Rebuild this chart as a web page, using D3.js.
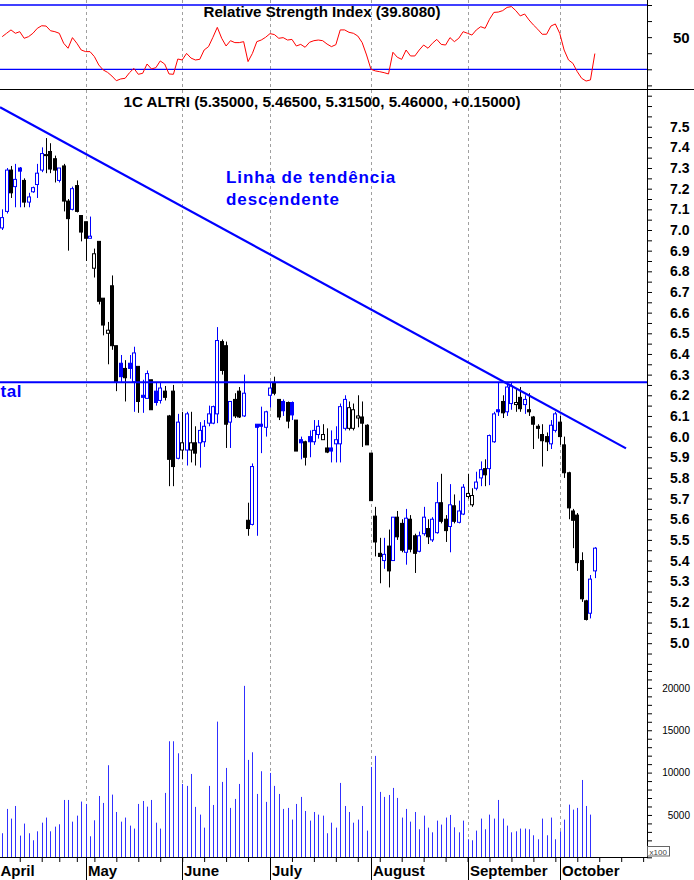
<!DOCTYPE html>
<html><head><meta charset="utf-8">
<script src="https://cdn.jsdelivr.net/npm/d3@7"></script>
<style>
body{margin:0;background:#fff}
svg{display:block}
text{font-family:"Liberation Sans",Arial,sans-serif}
</style>
</head><body>
<svg id="c" width="694" height="880"></svg>
<script>
// ---------------- DATA ----------------
const openP = [7.01,7.09,7.29,7.21,7.30,7.24,7.135,7.185,7.22,7.29,
7.36,7.38,7.345,7.24,7.31,7.14,7.10,7.215,7.07,7.04,
6.96,6.815,6.945,6.67,6.50,6.73,6.44,6.355,6.33,6.355,
6.265,6.34,6.20,6.185,6.275,6.22,6.175,6.22,6.10,6.22,
5.895,5.935,5.935,5.935,5.97,5.97,5.975,6.065,6.065,6.11,
6.46,6.44,6.07,6.18,6.22,6.10,5.595,5.575,6.06,6.06,
6.045,6.20,6.26,6.18,6.17,6.165,6.165,6.08,5.985,5.975,
6.0,5.975,6.01,5.985,5.945,5.945,5.965,5.965,6.04,6.04,
6.04,6.09,6.095,6.055,5.92,5.615,5.435,5.40,5.47,5.40,
5.61,5.58,5.44,5.60,5.52,5.445,5.53,5.555,5.50,5.535,
5.68,5.60,5.565,5.665,5.585,5.625,5.71,5.67,5.75,5.80,
5.845,5.845,5.975,6.13,6.17,6.12,6.16,6.155,6.19,6.155,
6.13,6.095,6.05,6.01,6.00,5.965,6.03,6.07,5.96,5.825,
5.64,5.62,5.40,5.205,5.145,5.35];
const highP = [7.10,7.30,7.31,7.32,7.305,7.25,7.18,7.21,7.32,7.40,
7.445,7.42,7.36,7.30,7.32,7.15,7.21,7.24,7.07,7.04,
7.065,6.91,6.945,6.67,6.555,6.78,6.44,6.395,6.37,6.395,
6.435,6.34,6.275,6.32,6.275,6.26,6.26,6.245,6.105,6.25,
6.11,6.12,6.12,6.12,6.05,6.07,6.08,6.15,6.15,6.53,
6.47,6.46,6.17,6.21,6.24,6.30,5.68,5.87,6.06,6.145,
6.125,6.26,6.29,6.18,6.18,6.17,6.17,6.08,6.0,5.98,
6.03,6.08,6.08,6.06,6.04,6.03,6.05,6.16,6.20,6.17,
6.16,6.20,6.17,6.06,5.92,5.66,5.51,5.51,5.55,5.61,
5.64,5.60,5.65,5.62,5.53,5.54,5.66,5.60,5.61,5.78,
5.82,5.62,5.77,5.72,5.69,5.77,5.82,5.75,5.83,5.88,
5.89,6.01,6.12,6.26,6.20,6.26,6.26,6.23,6.24,6.20,
6.21,6.10,6.06,6.06,6.02,6.08,6.12,6.10,6.0,5.83,
5.65,5.63,5.44,5.21,5.33,5.465];
const lowP = [7.00,7.08,7.155,7.11,7.11,7.11,7.11,7.18,7.155,7.28,
7.275,7.275,7.23,7.23,7.09,6.90,7.095,7.085,6.945,6.85,
6.96,6.77,6.64,6.49,6.35,6.42,6.22,6.265,6.17,6.28,
6.12,6.115,6.115,6.185,6.13,6.15,6.16,6.175,5.76,5.76,
5.89,5.89,5.86,5.875,5.86,5.85,5.95,6.05,6.06,6.065,
6.30,5.945,5.945,6.09,6.09,6.095,5.52,5.57,5.52,5.92,
6.0,6.14,6.20,6.08,6.10,6.04,6.08,5.93,5.89,5.86,
5.90,5.96,5.99,5.985,5.92,5.875,5.875,5.875,6.03,6.03,
6.03,6.045,5.95,5.96,5.69,5.42,5.29,5.36,5.27,5.40,
5.50,5.44,5.38,5.44,5.34,5.44,5.52,5.48,5.49,5.53,
5.58,5.49,5.44,5.58,5.58,5.62,5.70,5.66,5.74,5.76,
5.76,5.765,5.97,6.10,6.09,6.10,6.13,6.12,6.12,6.11,
6.10,5.94,5.99,5.855,5.93,5.94,6.02,5.96,5.80,5.60,
5.46,5.35,5.20,5.11,5.12,5.315];
const closeP = [7.06,7.29,7.18,7.245,7.285,7.135,7.16,7.205,7.275,7.37,
7.365,7.295,7.29,7.30,7.14,7.055,7.20,7.09,6.99,6.96,
6.97,6.885,6.655,6.54,6.515,6.44,6.265,6.29,6.285,6.33,
6.405,6.17,6.19,6.305,6.13,6.165,6.235,6.19,5.89,5.855,
6.07,5.97,6.11,5.97,5.92,6.03,6.05,6.11,6.145,6.465,
6.32,6.06,6.17,6.10,6.095,6.21,5.555,5.855,6.045,6.05,
6.12,6.235,6.21,6.095,6.125,6.075,6.105,5.93,5.97,5.90,
5.975,6.03,6.05,6.01,5.925,5.93,5.985,6.145,6.18,6.14,
6.13,6.10,6.065,5.96,5.69,5.49,5.42,5.43,5.35,5.61,
5.515,5.45,5.605,5.455,5.435,5.52,5.61,5.515,5.60,5.68,
5.59,5.545,5.67,5.59,5.64,5.755,5.725,5.715,5.78,5.84,
5.815,6.005,6.11,6.12,6.115,6.24,6.245,6.165,6.135,6.18,
6.12,6.06,6.04,5.98,5.975,6.055,6.11,6.00,5.825,5.655,
5.595,5.39,5.215,5.115,5.31,5.46];
// volume in units of 100 shares
const volume = [2840,5710,4570,6060,2560,3980,2840,2010,3070,4090,
4690,3070,3620,3900,6770,6770,4210,4920,6580,6300,
2480,4370,7240,6420,10870,7400,5350,4210,4690,3740,
3390,6300,6650,5980,6770,4090,3390,7600,13700,13700,
12280,8660,8430,9840,5950,5040,3500,8430,6180,16020,
8900,10550,5830,6890,8660,20240,11500,12400,7480,10160,
6540,9960,8430,7480,5710,5830,4450,6300,7130,5470,
4330,5350,5040,4920,2840,4090,3500,8780,6060,5350,
4090,4450,6060,3150,10670,11970,7720,7130,7360,8190,
7010,4690,5710,4210,5350,3310,4920,3500,2950,4330,
3860,4690,5000,3540,2950,4330,2130,2010,3150,4570,
3310,5040,4570,6770,4570,3740,2950,3070,3390,3390,
3310,2600,2130,4570,2600,4690,2130,3070,4450,6220,
5630,5830,9130,6060,5040];
const rsi = [50.3,52.4,54.5,52.4,53.4,49.3,50.3,52.4,55.5,57.1,
56.9,54.0,53.4,52.4,46.2,43.1,49.7,46.2,42.0,41.0,
41.0,37.9,32.7,29.6,28.1,25.8,22.9,24.0,24.4,27.9,
30.6,26.9,27.5,33.3,30.2,31.0,35.2,33.3,27.1,26.9,
36.4,35.8,39.9,37.0,35.8,36.2,42.0,44.1,49.9,56.1,
49.3,44.5,47.8,46.6,46.6,47.2,34.8,39.9,47.2,48.2,
49.9,52.2,51.6,49.3,49.7,48.2,48.6,44.5,45.5,43.7,
46.8,47.8,48.2,47.8,45.7,44.1,45.3,54.5,54.5,53.0,
52.4,50.7,46.6,38.9,30.0,29.0,28.5,27.9,27.1,40.6,
37.5,36.2,42.0,38.3,38.3,42.0,45.1,43.1,46.2,48.6,
45.5,45.1,49.7,47.2,49.3,53.4,52.4,51.3,54.5,56.5,
55.5,61.1,65.4,65.6,66.5,68.5,69.0,66.5,63.2,64.4,
60.7,57.6,54.9,51.8,51.8,56.9,58.2,52.4,42.0,35.8,
33.7,28.5,24.4,22.7,23.4,39.8];
const monthNames = ["April","May","June","July","August","September","October"];
const monthStart = [-12,19,41,61,84,106,127];       // trading-day index of 1st day
const weekTicks = [4,9,13,17,21,26,31,36,41,46,51,56,61,66,71,76,81,86,91,96,101,106,111,116,121,126,131,136,141,146];
const priceLabels = [5.0,5.1,5.2,5.3,5.4,5.5,5.6,5.7,5.8,5.9,6.0,6.1,6.2,6.3,6.4,6.5,6.6,6.7,6.8,6.9,7.0,7.1,7.2,7.3,7.4,7.5];
const volumeLabels = [5000,10000,15000,20000];
const rsiTicks = [20,30,40,50,60,70];
const rsiLevels = [30,70];
const supportLevel = 6.263;
const trendLine = [[-0.5,7.594],[142.1,5.943]];  // [day index, price]
const titleRSI = "Relative Strength Index (39.8080)";
const titlePrice = "1C ALTRI (5.35000, 5.46500, 5.31500, 5.46000, +0.15000)";
const noteTrend = ["Linha de tendência","descendente"];
const noteSupport = "tal";

// ---------------- LAYOUT ----------------
const AX = 647, XAXIS_Y = 857.5, SEP_Y = 89.5;
const BLUE = "#0000ff";
const svg = d3.select("#c");
const x  = d3.scaleLinear().domain([0,135]).range([2.2, 2.2+4.39*135]);
const yP = d3.scaleLinear().domain([5,7.5]).range([643.2,126.7]);
const yV = d3.scaleLinear().domain([0,20000]).range([857.3,687.9]);
const yR = d3.scaleLinear().domain([30,70]).range([69.3,5]);

const defs = svg.append("defs");
defs.append("clipPath").attr("id","clipR").append("rect").attr("x",0).attr("y",0).attr("width",AX).attr("height",SEP_Y);
defs.append("clipPath").attr("id","clipM").append("rect").attr("x",0).attr("y",SEP_Y).attr("width",AX).attr("height",XAXIS_Y-SEP_Y);

// month gridlines (dashed)
const months = monthNames.map((m,k)=>({name:m, start:monthStart[k]}));
svg.append("g").selectAll("line").data(months.filter(d=>x(d.start)>0)).join("line")
  .attr("x1",d=>Math.round(x(d.start))+0.5).attr("x2",d=>Math.round(x(d.start))+0.5)
  .attr("y1",0).attr("y2",XAXIS_Y)
  .attr("stroke","#a0a0a0").attr("stroke-width",1).attr("stroke-dasharray","3,3");

// ---------- RSI panel ----------
const gR = svg.append("g").attr("clip-path","url(#clipR)");
gR.selectAll("line.lvl").data(rsiLevels).join("line").attr("class","lvl")
  .attr("x1",0).attr("x2",AX).attr("y1",d=>yR(d)).attr("y2",d=>yR(d))
  .attr("stroke",BLUE).attr("stroke-width",1.3);
gR.append("path").datum(rsi)
  .attr("d", d3.line().x((d,i)=>x(i)).y(d=>yR(d)))
  .attr("fill","none").attr("stroke","#ff0000").attr("stroke-width",1);

svg.append("text").attr("x",322).attr("y",17).attr("text-anchor","middle")
  .attr("textLength",237).attr("lengthAdjust","spacingAndGlyphs")
  .style("font-weight","bold").style("font-size","14.5px").text(titleRSI);

svg.append("line").attr("x1",0).attr("x2",694).attr("y1",SEP_Y).attr("y2",SEP_Y)
  .attr("stroke","#000").attr("stroke-width",1);

// ---------- Price panel ----------
const gM = svg.append("g").attr("clip-path","url(#clipM)");

// volume
gM.append("g").selectAll("line").data(volume).join("line")
  .attr("x1",(d,i)=>Math.round(x(i))+0.5).attr("x2",(d,i)=>Math.round(x(i))+0.5)
  .attr("y1",yV(0)).attr("y2",d=>yV(d))
  .attr("stroke","#3030ff").attr("stroke-width",1);

// candles
const candles = closeP.map((c,i)=>{
  const o=openP[i];
  const prev = i>0 ? closeP[i-1] : o;
  return {i,o,h:highP[i],l:lowP[i],c,
    color: (c>=prev)? BLUE : "#000",
    hollow: c>=o};
});
const gC = gM.append("g");
gC.selectAll("line").data(candles).join("line")
  .attr("x1",d=>Math.round(x(d.i))+0.5).attr("x2",d=>Math.round(x(d.i))+0.5)
  .attr("y1",d=>yP(d.h)).attr("y2",d=>yP(d.l))
  .attr("stroke",d=>d.color).attr("stroke-width",1);
gC.selectAll("rect").data(candles).join("rect")
  .attr("x",d=>Math.round(x(d.i))-1.5).attr("width",3)
  .attr("y",d=>yP(Math.max(d.o,d.c)))
  .attr("height",d=>Math.max(0.6,Math.abs(yP(d.o)-yP(d.c))))
  .attr("fill",d=>d.hollow?"#fff":d.color)
  .attr("stroke",d=>d.color).attr("stroke-width",1);

// support & trend lines
gM.append("line").attr("x1",0).attr("x2",AX).attr("y1",yP(supportLevel)).attr("y2",yP(supportLevel))
  .attr("stroke",BLUE).attr("stroke-width",2.2);
gM.append("path").datum(trendLine)
  .attr("d",d3.line().x(d=>x(d[0])).y(d=>yP(d[1])))
  .attr("stroke",BLUE).attr("stroke-width",2.2).attr("fill","none");

// annotations
const tt = svg.append("text").attr("x",226).attr("fill",BLUE)
  .style("font-weight","bold").style("font-size","17px").style("letter-spacing","0.9px");
tt.selectAll("tspan").data(noteTrend).join("tspan")
  .attr("x",226).attr("y",(d,k)=>183+k*22).text(d=>d);
svg.append("text").attr("x",0.5).attr("y",397).attr("fill",BLUE)
  .style("font-weight","bold").style("font-size","17px").style("letter-spacing","0.6px")
  .text(noteSupport);

svg.append("text").attr("x",322).attr("y",106.5).attr("text-anchor","middle")
  .attr("textLength",397).attr("lengthAdjust","spacingAndGlyphs")
  .style("font-weight","bold").style("font-size","14.5px").text(titlePrice);

// ---------- Right axes ----------
svg.append("line").attr("x1",AX+0.5).attr("x2",AX+0.5).attr("y1",0).attr("y2",XAXIS_Y)
  .attr("stroke","#000").attr("stroke-width",1);

const axR = svg.append("g").attr("transform",`translate(${AX},0)`)
  .call(d3.axisRight(yR).tickValues(rsiTicks).tickSize(5).tickPadding(21).tickFormat(d=>d===50?"50":""));
axR.select(".domain").remove();
axR.selectAll("text").style("font-size","15px").style("font-weight","bold").attr("dy","0.38em")
  .style("font-family","'Liberation Sans',Arial,sans-serif");

const pTicks = d3.range(490,770,5).map(v=>v/100);
const axP = svg.append("g").attr("transform",`translate(${AX},0)`)
  .call(d3.axisRight(yP).tickValues(pTicks).tickSize(5).tickPadding(18)
    .tickFormat(v=>priceLabels.some(p=>Math.abs(p-v)<1e-6)?d3.format(".1f")(v):""));
axP.select(".domain").remove();
axP.selectAll("text").style("font-size","14px").style("font-weight","bold")
  .style("font-family","'Liberation Sans',Arial,sans-serif");

const vTicks = d3.range(0,23000,1000);
const axV = svg.append("g").attr("transform",`translate(${AX},0)`)
  .call(d3.axisRight(yV).tickValues(vTicks).tickSize(5).tickPadding(0)
    .tickFormat(v=>volumeLabels.includes(v)?String(v):""));
axV.select(".domain").remove();
axV.selectAll("text").attr("x",43).attr("text-anchor","end").style("font-size","10px")
  .style("font-family","'Liberation Sans',Arial,sans-serif");

// x100 box
svg.append("rect").attr("x",647.5).attr("y",846.5).attr("width",22).attr("height",9.5)
  .attr("fill","#fff").attr("stroke","#666").attr("stroke-width",1);
svg.append("text").attr("x",649.5).attr("y",854.5).attr("fill","#444")
  .style("font-size","8px").text("x100");

// ---------- Bottom axis ----------
svg.append("line").attr("x1",0).attr("x2",AX+1).attr("y1",XAXIS_Y).attr("y2",XAXIS_Y)
  .attr("stroke","#000").attr("stroke-width",1);
const axX = svg.append("g").attr("transform",`translate(0,${XAXIS_Y-0.5})`)
  .call(d3.axisBottom(x).tickValues(weekTicks).tickSize(5).tickFormat(""));
axX.select(".domain").remove();
svg.append("g").selectAll("line").data(months.filter(d=>x(d.start)>0)).join("line")
  .attr("x1",d=>Math.round(x(d.start))+0.5).attr("x2",d=>Math.round(x(d.start))+0.5)
  .attr("y1",XAXIS_Y).attr("y2",880).attr("stroke","#000").attr("stroke-width",1);
svg.append("g").selectAll("text").data(months).join("text")
  .attr("x",d=>Math.max(0.5,Math.round(x(d.start))+2)).attr("y",876)
  .style("font-weight","bold").style("font-size","15px").text(d=>d.name);
</script>
</body></html>
